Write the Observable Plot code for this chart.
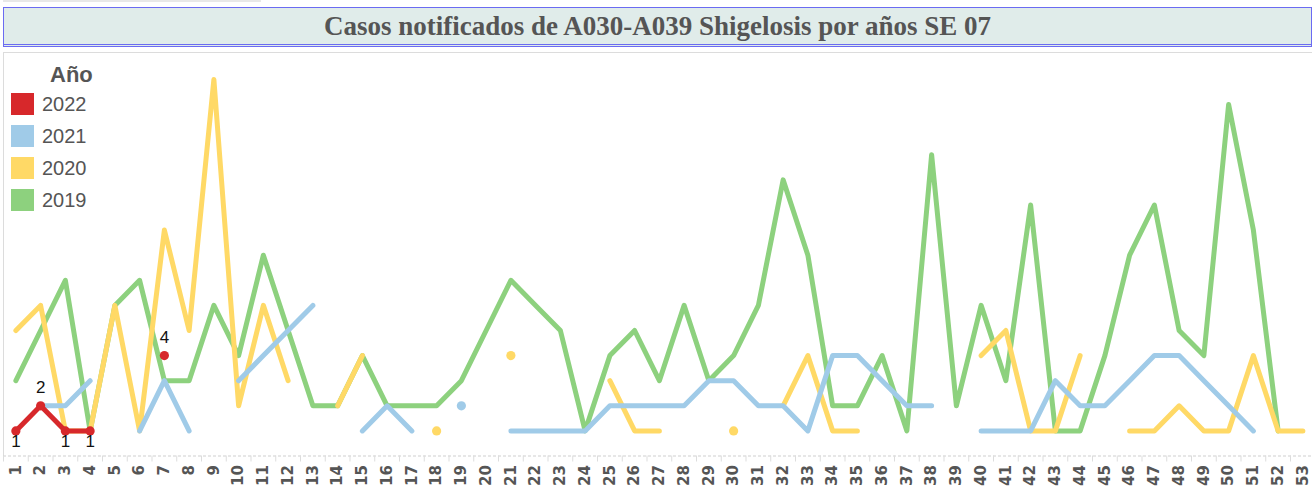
<!DOCTYPE html>
<html>
<head>
<meta charset="utf-8">
<script src="https://cdn.jsdelivr.net/npm/d3@7"></script>
<script src="https://cdn.jsdelivr.net/npm/@observablehq/plot@0.6"></script>
<style>
  html, body { margin: 0; padding: 0; background: #fff; }
  #page { position: relative; width: 1312px; height: 489px; overflow: hidden; font-family: "Liberation Sans", Arial, sans-serif; }
  #topline { position: absolute; left: 3px; top: 0; width: 258px; height: 2px; background: #e8e8e8; }
  #title { position: absolute; left: 3px; top: 7px; width: 1309px; height: 40px; box-sizing: border-box;
    background: #e0ecea; border: 1px solid #6b6bf2; border-bottom: 3px double #6b6bf2;
    font-family: "Liberation Serif", "Times New Roman", serif; font-weight: bold; font-size: 27px; color: #555;
    text-align: center; line-height: 37px; }
  #frameTop { position: absolute; left: 3px; top: 52px; width: 1309px; height: 1px; background: #dcdcdc; }
  #frameLeft { position: absolute; left: 3px; top: 52px; width: 1px; height: 404px; background: #dcdcdc; }
  #chart { position: absolute; left: 0; top: 53px; }
  #legend { position: absolute; left: 11px; top: 62px; color: #555; }
  #legend .head { font-weight: bold; font-size: 22px; margin-left: 39px; line-height: 26px; }
  #legend .item { display: flex; align-items: center; height: 32px; font-size: 20px; }
  #legend .sw { width: 23px; height: 22px; margin-right: 8px; }
</style>
</head>
<body>
<div id="page">
  <div id="topline"></div>
  <div id="title">Casos notificados de A030-A039 Shigelosis por años SE 07</div>
  <div id="frameTop"></div>
  <div id="frameLeft"></div>
  <div id="chart"></div>
  <div id="legend"></div>
</div>
<script>
const weeks = d3.range(1, 54);
const years = ["2022", "2021", "2020", "2019"];
const colors = ["#d7282b", "#a0cbe8", "#ffd966", "#8dd17e"];
const n = null;

const cases2022 = [1,2,1,1,n,n,4,n,n,n, n,n,n,n,n,n,n,n,n,n, n,n,n,n,n,n,n,n,n,n, n,n,n,n,n,n,n,n,n,n, n,n,n,n,n,n,n,n,n,n, n,n,n];
const cases2021 = [n,2,2,3,n,1,3,1,n,3, 4,5,6,n,1,2,1,n,2,n, 1,1,1,1,2,2,2,2,3,3, 2,2,1,4,4,3,2,2,n,1, 1,1,3,2,2,3,4,4,3,2, 1,n,n];
const cases2020 = [5,6,1,1,6,1,9,5,15,2, 6,3,n,2,4,n,n,1,n,n, 4,n,n,n,3,1,1,n,n,1, n,2,4,1,1,n,n,n,n,4, 5,1,1,4,n,1,1,2,1,1, 4,1,1];
const cases2019 = [3,5,7,1,6,7,3,3,6,4, 8,5,2,2,4,2,2,2,3,5, 7,6,5,1,4,5,3,6,3,4, 6,11,8,2,2,4,1,12,2,6, 3,10,1,1,4,8,10,5,4,14, 9,1,n];

const series = {"2022": cases2022, "2021": cases2021, "2020": cases2020, "2019": cases2019};
const colorOf = Object.fromEntries(years.map((y, i) => [y, colors[i]]));

function rows(year) {
  const v = series[year];
  return weeks.map((w, i) => ({week: w, value: v[i], year,
    isolated: v[i] != null && (i === 0 || v[i-1] == null) && (i === v.length - 1 || v[i+1] == null)}));
}

const drawOrder = ["2019", "2020", "2021", "2022"];
const marks = [
  Plot.ruleY([0], {stroke: "#cfcfcf", strokeDasharray: "3,2"}),
  Plot.axisX({ticks: d3.range(0.5, 54, 1), tickFormat: () => "", tickSize: 6, stroke: "#dddddd", label: null}),
  Plot.axisX({ticks: weeks, tickSize: 0, tickRotate: -90, tickPadding: 9, tickFormat: d => String(d),
    fontSize: 15, fontWeight: "bold", fill: "#555", fontFamily: "DejaVu Sans", label: null})
];
for (const y of drawOrder) {
  const data = rows(y);
  marks.push(Plot.line(data, {x: "week", y: "value", stroke: colorOf[y], strokeWidth: 5,
    strokeLinecap: "round", strokeLinejoin: "round"}));
  const dots = y === "2022" ? data.filter(d => d.value != null) : data.filter(d => d.isolated);
  marks.push(Plot.dot(dots, {x: "week", y: "value", r: 4.6, fill: colorOf[y], stroke: "none"}));
}
const red = rows("2022").filter(d => d.value != null);
marks.push(Plot.text(red.filter(d => d.value >= 2), {x: "week", y: "value", text: d => String(d.value), dy: -18,
  fontSize: 17, fill: "#111", fontFamily: "Liberation Sans"}));
marks.push(Plot.text(red.filter(d => d.value < 2), {x: "week", y: "value", text: d => String(d.value), dy: 11,
  fontSize: 17, fill: "#111", fontFamily: "Liberation Sans"}));

const chart = Plot.plot({
  width: 1312,
  height: 436,
  marginLeft: 3,
  marginRight: 0,
  marginTop: 1,
  marginBottom: 33.5,
  x: {domain: [0.5, 53.5], range: [3, 1314.75], axis: null},
  y: {domain: [0, 16], range: [402.5, 0.9], axis: null},
  style: {background: "transparent", overflow: "visible"},
  marks
});
document.getElementById("chart").appendChild(chart);

const legend = document.getElementById("legend");
legend.innerHTML = '<div class="head">Año</div>' +
  years.map((y, i) => `<div class="item"><div class="sw" style="background:${colors[i]}"></div>${y}</div>`).join("");
</script>
</body>
</html>
